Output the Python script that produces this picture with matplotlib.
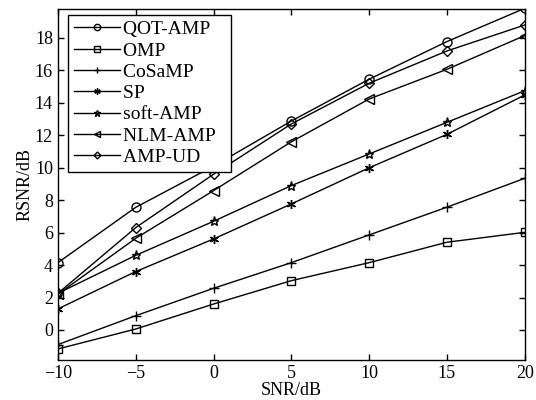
import matplotlib
matplotlib.use("Agg")
import matplotlib.pyplot as plt

plt.rcParams['font.family'] = ['Liberation Serif', 'DejaVu Serif']
plt.rcParams['mathtext.fontset'] = 'stix'

# data
snr = [-10, -5, 0, 5, 10, 15, 20]
qot_amp = [4.15, 7.56, 10.1, 12.88, 15.46, 17.78, 19.83]
omp = [-1.17, 0.06, 1.6, 3.04, 4.15, 5.41, 6.02]
cosamp = [-0.9, 0.88, 2.57, 4.15, 5.86, 7.57, 9.35]
sp = [1.3, 3.6, 5.61, 7.77, 10.0, 12.06, 14.49]
soft_amp = [2.26, 4.6, 6.7, 8.9, 10.85, 12.8, 14.75]
nlm_amp = [2.2, 5.65, 8.59, 11.6, 14.24, 16.07, 18.15]
amp_ud = [2.26, 6.31, 9.6, 12.7, 15.21, 17.2, 18.8]

series = [
    ("QOT-AMP", qot_amp, 'o'),
    ("OMP", omp, 's'),
    ("CoSaMP", cosamp, '+'),
    ("SP", sp, (6, 2, 0)),
    ("soft-AMP", soft_amp, '*'),
    ("NLM-AMP", nlm_amp, '<'),
    ("AMP-UD", amp_ud, 'D'),
]

fig = plt.figure(figsize=(5.36, 4.0), dpi=100)
ax = fig.add_axes([0.108, 0.1, 0.871, 0.878])

for name, vals, m in series:
    ms = 6.5
    if m == 'D':
        ms = 5
    elif m == 's':
        ms = 5.5
    ax.plot(snr, vals, color='black', linewidth=1.0, marker=m, markersize=ms,
            markerfacecolor='none', markeredgecolor='black', markeredgewidth=1.0,
            label=name + "  ")

ax.set_xlim(-10, 20)
ax.set_ylim(-1.85, 19.8)
ax.set_xticks([-10, -5, 0, 5, 10, 15, 20])
ax.set_xticklabels(['\u221210', '\u22125', '0', '5', '10', '15', '20'])
ax.set_yticks([0, 2, 4, 6, 8, 10, 12, 14, 16, 18])
ax.tick_params(direction='in', length=4, width=1, top=True, right=True, labelsize=13)
for s in ax.spines.values():
    s.set_linewidth(1.0)
ax.set_xlabel("SNR/dB", fontsize=13, labelpad=0)
ax.set_ylabel("RSNR/dB", fontsize=13, labelpad=1)

leg = ax.legend(loc='upper left', bbox_to_anchor=(0.021, 0.983),
                fontsize=14, frameon=True, fancybox=False,
                edgecolor='black', framealpha=1, handlelength=2.4,
                markerscale=0.7,
                borderpad=0.3, labelspacing=0.19, handletextpad=0.15,
                borderaxespad=0.0)
leg.get_frame().set_linewidth(1.0)

fig.savefig("out.png", dpi=100)
